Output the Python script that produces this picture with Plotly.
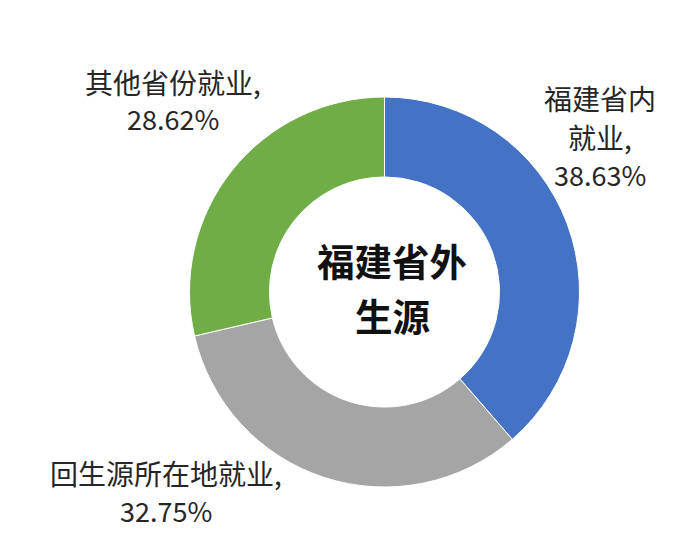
import plotly.graph_objects as go

categories = ["福建省内就业", "回生源所在地就业", "其他省份就业"]
values = [38.63, 32.75, 28.62]
colors = ["#4472C4", "#A5A5A5", "#70AD47"]
label_lines = [["福建省内", "就业,"], ["回生源所在地就业,"], ["其他省份就业,"]]
center_lines = ["福建省外", "生源"]

W, H = 696, 542
OFF = 8  # page body margin offset
cx, cy, R = 384.5 - OFF, 292.0 - OFF, 195.0

fig = go.Figure(go.Pie(
    labels=categories, values=values, sort=False, direction="clockwise",
    rotation=0, hole=0.59, textinfo="none", hoverinfo="label+percent",
    marker=dict(colors=colors, line=dict(color="white", width=1)),
    domain=dict(x=[(cx - R) / W, (cx + R) / W], y=[(H - cy - R) / H, (H - cy + R) / H]),
    showlegend=False,
))

def px(x):
    return (x - OFF) / W

def py(y):
    return 1 - (y - OFF) / H

# label anchor: (center x, first line y, line spacing)
label_pos = [(600, 98, 38.5), (166, 473, 37), (173, 82, 36)]
font_cjk = dict(family="Noto Sans CJK SC", size=28, color="#262626")
font_num = dict(family="Noto Sans CJK SC", size=27, color="#262626")
annotations = []
for i, (lines, (x, y0, dy)) in enumerate(zip(label_lines, label_pos)):
    all_lines = [(t, font_cjk) for t in lines] + [(f"{values[i]:.2f}%", font_num)]
    for j, (t, f) in enumerate(all_lines):
        annotations.append(dict(x=px(x), y=py(y0 + j * dy), xref="paper", yref="paper",
                                text=t, showarrow=False, xanchor="center", yanchor="middle",
                                font=f))

for j, t in enumerate(center_lines):
    annotations.append(dict(x=px(392), y=py(259.5 + j * 55), xref="paper", yref="paper",
                            text=f"<b>{t}</b>", showarrow=False, xanchor="center", yanchor="middle",
                            font=dict(family="Noto Sans CJK SC", size=37.5, color="#111111")))

fig.update_layout(width=W, height=H, margin=dict(l=0, r=0, t=0, b=0),
                  paper_bgcolor="white", plot_bgcolor="white", annotations=annotations)
fig.write_html("out.html")
